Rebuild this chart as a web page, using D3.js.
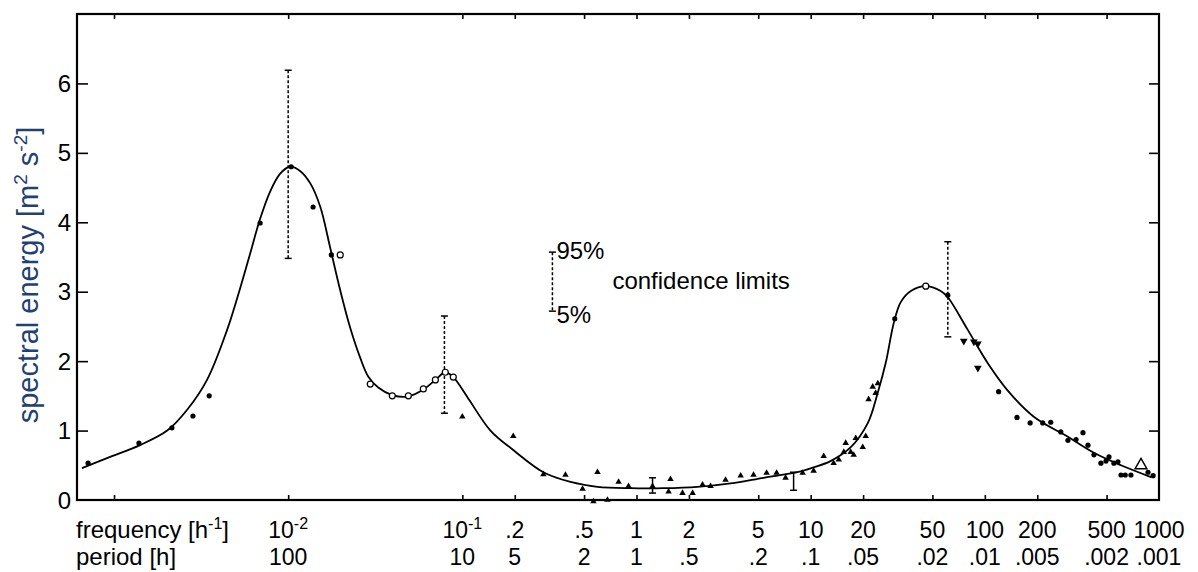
<!DOCTYPE html>
<html><head><meta charset="utf-8">
<script src="https://cdn.jsdelivr.net/npm/d3@7"></script>
<style>
body{margin:0;background:#fff}
svg{display:block}
text{font-family:"Liberation Sans",Arial,Helvetica,sans-serif;fill:#000}
</style>
</head><body>
<svg id="chart" width="1198" height="572"></svg>
<script>
// ---------------- data ----------------
// fitted smooth curve: frequency [1/h] and spectral energy [m2 s-2]
const curveFreq   = [0.000655,0.00095,0.00141,0.00202,0.00263,0.00342,0.00446,0.0053,0.00605,0.0069,0.0079,0.0090,0.0102,0.0117,0.0134,0.0153,0.0174,0.0199,0.0227,0.0259,0.0288,0.0329,0.0396,0.0490,0.0597,0.0700,0.0798,0.0887,0.107,0.145,0.196,0.292,0.418,0.597,0.925,1.43,2.24,3.47,5.37,8.41,10.4,13.0,17.0,21.3,24.3,27.0,30.0,32.9,37.6,45.8,55.8,61.3,79.8,104,135,191,300,423,605,900];
const curveEnergy = [0.46,0.62,0.79,1.00,1.30,1.73,2.45,3.05,3.55,4.05,4.45,4.70,4.80,4.74,4.56,4.22,3.64,3.02,2.48,2.05,1.78,1.62,1.51,1.49,1.59,1.73,1.84,1.77,1.48,1.00,0.72,0.40,0.26,0.19,0.17,0.17,0.19,0.24,0.32,0.40,0.47,0.56,0.76,1.11,1.55,1.98,2.55,2.85,3.01,3.08,3.01,2.92,2.45,1.97,1.58,1.20,0.91,0.68,0.50,0.33];

// observed estimates, filled dots
const dotFreq   = [0.00071,0.00139,0.00215,0.00284,0.00352,0.0069,0.0104,0.0139,0.0177,30.4,61.3,120,153,182,215,239,273,300,334,366,391,423,464,496,516,551,581,605,640,690,865,925];
const dotEnergy = [0.53,0.82,1.04,1.21,1.50,3.99,4.80,4.22,3.53,2.61,2.95,1.56,1.19,1.11,1.11,1.12,0.98,0.86,0.87,0.97,0.79,0.65,0.53,0.56,0.62,0.53,0.55,0.36,0.36,0.36,0.40,0.35];

// open circles
const circleFreq   = [0.0199,0.0296,0.0396,0.0490,0.0597,0.0700,0.0798,0.0887,45.8];
const circleEnergy = [3.53,1.67,1.50,1.50,1.60,1.73,1.84,1.77,3.08];

// filled triangles
const triFreq   = [0.100,0.196,0.292,0.391,0.490,0.597,0.789,0.900,1.236,1.567,1.528,1.837,2.099,2.394,2.662,3.245,3.963,4.699,5.585,6.375,7.178,8.995,10.4,11.88,13.55,14.49,15.49,15.89,16.98,17.66,18.15,19.9,20.7,21.5,22.7,23.6,24.3,0.566,0.681];
const triEnergy = [1.20,0.92,0.37,0.36,0.16,0.40,0.26,0.20,0.20,0.30,0.12,0.10,0.10,0.22,0.20,0.29,0.35,0.36,0.39,0.39,0.32,0.39,0.42,0.63,0.53,0.58,0.69,0.82,0.69,0.65,0.89,0.76,0.92,1.45,1.63,1.54,1.68,-0.02,0.0];

// inverted triangles
const invFreq   = [75.7,86.5,91.2,91.2];
const invEnergy = [2.29,2.28,2.25,1.90];

// open triangle
const openTriFreq   = [788];
const openTriEnergy = [0.50];

// confidence limits (5% / 95%)
const confFreq = [0.01,0.0789,61.3];
const conf95   = [6.19,2.65,3.72];
const conf5    = [3.48,1.25,2.35];

// small solid error bars
const smallBarFreq = [1.236,7.98];
const smallBarHi   = [0.32,0.40];
const smallBarLo   = [0.10,0.14];

// legend bar
const legendFreq = [0.329];
const legend95   = [3.57];
const legend5    = [2.72];

// axes
const tickFreq    = [0.001,0.01,0.1,0.2,0.5,1,2,5,10,20,50,100,200,500];
const labelFreq   = [0.01,0.1,0.2,0.5,1,2,5,10,20,50,100,200,500,1000];
const freqBase    = ["10","10",".2",".5","1","2","5","10","20","50","100","200","500","1000"];
const freqExp     = ["-2","-1","","","","","","","","","","","",""];
const periodLabel = ["100","10","5","2","1",".5",".2",".1",".05",".02",".01",".005",".002",".001"];
const yTicks      = [0,1,2,3,4,5,6];

// ---------------- layout ----------------
const L = 77, R = 1159, T = 14, B = 500;
const xDomain = [0.000613, 1000];
const yDomain = [0, 7];

const svg = d3.select("#chart");
svg.append("rect").attr("width",1198).attr("height",572).attr("fill","#fff");

const x = d3.scaleLog().domain(xDomain).range([L, R]);
const y = d3.scaleLinear().domain(yDomain).range([B, T]);

const g = svg.append("g");

// frame
g.append("rect").attr("x",L).attr("y",T).attr("width",R-L).attr("height",B-T)
  .attr("fill","none").attr("stroke","#000").attr("stroke-width",2.2);

// ticks via axes (inward)
const bottomAx = d3.axisBottom(x).tickValues(tickFreq).tickSize(-5).tickFormat("");
const topAx = d3.axisTop(x).tickValues(tickFreq).tickSize(-5).tickFormat("");
const leftAx = d3.axisLeft(y).tickValues(yTicks.slice(1)).tickSize(-11).tickFormat("");
const rightAx = d3.axisRight(y).tickValues(yTicks.slice(1)).tickSize(-10).tickFormat("");
function styleAx(sel){
  sel.select(".domain").remove();
  sel.selectAll(".tick line").attr("stroke","#000").attr("stroke-width",1.6);
}
g.append("g").attr("transform",`translate(0,${B})`).call(bottomAx).call(styleAx);
g.append("g").attr("transform",`translate(0,${T})`).call(topAx).call(styleAx);
g.append("g").attr("transform",`translate(${L},0)`).call(leftAx).call(styleAx);
g.append("g").attr("transform",`translate(${R},0)`).call(rightAx).call(styleAx);

// y tick labels
g.selectAll(".ylab").data(yTicks).enter().append("text")
  .attr("x", L-6).attr("y", d=>y(d)).attr("dy","0.36em")
  .attr("text-anchor","end").style("font-size","24px").text(d=>d);

// y axis title
const yt = svg.append("text")
  .attr("transform",`translate(38,${(T+B)/2+18}) rotate(-90)`)
  .attr("text-anchor","middle").style("font-size","29px").style("fill","#1f4273");
yt.append("tspan").text("spectral energy [m");
yt.append("tspan").attr("dy",-11).style("font-size","19px").style("fill","#1f4273").text("2");
yt.append("tspan").attr("dy",11).text(" s");
yt.append("tspan").attr("dy",-11).style("font-size","19px").style("fill","#1f4273").text("-2");
yt.append("tspan").attr("dy",11).text("]");

// bottom row titles
const fr = svg.append("text").attr("x",76).attr("y",538).style("font-size","24px");
fr.append("tspan").text("frequency [h");
fr.append("tspan").attr("dy",-9).style("font-size","16px").text("-1");
fr.append("tspan").attr("dy",9).text("]");
svg.append("text").attr("x",76).attr("y",565).style("font-size","24px").text("period [h]");

// frequency labels
labelFreq.forEach((f,i)=>{
  const t = svg.append("text").attr("x",x(f)).attr("y",538).attr("text-anchor","middle").style("font-size","23px");
  t.append("tspan").text(freqBase[i]);
  if (freqExp[i]) t.append("tspan").attr("dy",-9).style("font-size","16px").text(freqExp[i]);
});
// period labels
labelFreq.forEach((f,i)=>{
  svg.append("text").attr("x",x(f)).attr("y",565).attr("text-anchor","middle").style("font-size","23px").text(periodLabel[i]);
});

// confidence bars
function confBars(fs, hi, lo, dashed){
  fs.forEach((f,i)=>{
    const cx = x(f);
    g.append("line").attr("x1",cx).attr("x2",cx).attr("y1",y(hi[i])).attr("y2",y(lo[i]))
      .attr("stroke","#000").attr("stroke-width",1.5).attr("stroke-dasharray",dashed?"3,2":null);
    [hi[i],lo[i]].forEach(v=>{
      g.append("line").attr("x1",cx-3.5).attr("x2",cx+3.5).attr("y1",y(v)).attr("y2",y(v))
        .attr("stroke","#000").attr("stroke-width",1.5);
    });
  });
}
confBars(confFreq, conf95, conf5, true);
confBars(smallBarFreq, smallBarHi, smallBarLo, false);
confBars(legendFreq, legend95, legend5, true);

// legend text
const lx = x(legendFreq[0]);
svg.append("text").attr("x",lx+4).attr("y",y(legend95[0])+7).style("font-size","24px").text("95%");
svg.append("text").attr("x",lx+4).attr("y",y(legend5[0])+12).style("font-size","24px").text("5%");
svg.append("text").attr("x",lx+60).attr("y",y((legend95[0]+legend5[0])/2)+7).style("font-size","24px").text("confidence limits");

// curve
const curveData = curveFreq.map((f,i)=>[f,curveEnergy[i]]);
g.append("path").datum(curveData)
  .attr("d", d3.line().x(d=>x(d[0])).y(d=>y(d[1])).curve(d3.curveCatmullRom.alpha(0.5)))
  .attr("fill","none").attr("stroke","#000").attr("stroke-width",1.8);

// markers
function zip(a,b){return a.map((v,i)=>[v,b[i]]);}
g.selectAll(".dot").data(zip(dotFreq,dotEnergy)).enter().append("circle")
  .attr("cx",d=>x(d[0])).attr("cy",d=>y(d[1])).attr("r",2.6).attr("fill","#000");
g.selectAll(".circ").data(zip(circleFreq,circleEnergy)).enter().append("circle")
  .attr("cx",d=>x(d[0])).attr("cy",d=>y(d[1])).attr("r",3).attr("fill","#fff").attr("stroke","#000").attr("stroke-width",1.2);
const triSym = d3.symbol().type(d3.symbolTriangle).size(18);
g.selectAll(".tri").data(zip(triFreq,triEnergy)).enter().append("path")
  .attr("d",triSym).attr("transform",d=>`translate(${x(d[0])},${y(d[1])})`).attr("fill","#000");
g.selectAll(".inv").data(zip(invFreq,invEnergy)).enter().append("path")
  .attr("d",d3.symbol().type(d3.symbolTriangle).size(26)).attr("transform",d=>`translate(${x(d[0])},${y(d[1])}) rotate(180)`).attr("fill","#000");
g.selectAll(".otri").data(zip(openTriFreq,openTriEnergy)).enter().append("path")
  .attr("d",d3.symbol().type(d3.symbolTriangle).size(60)).attr("transform",d=>`translate(${x(d[0])},${y(d[1])})`)
  .attr("fill","none").attr("stroke","#000").attr("stroke-width",1.5);
</script>
</body></html>
